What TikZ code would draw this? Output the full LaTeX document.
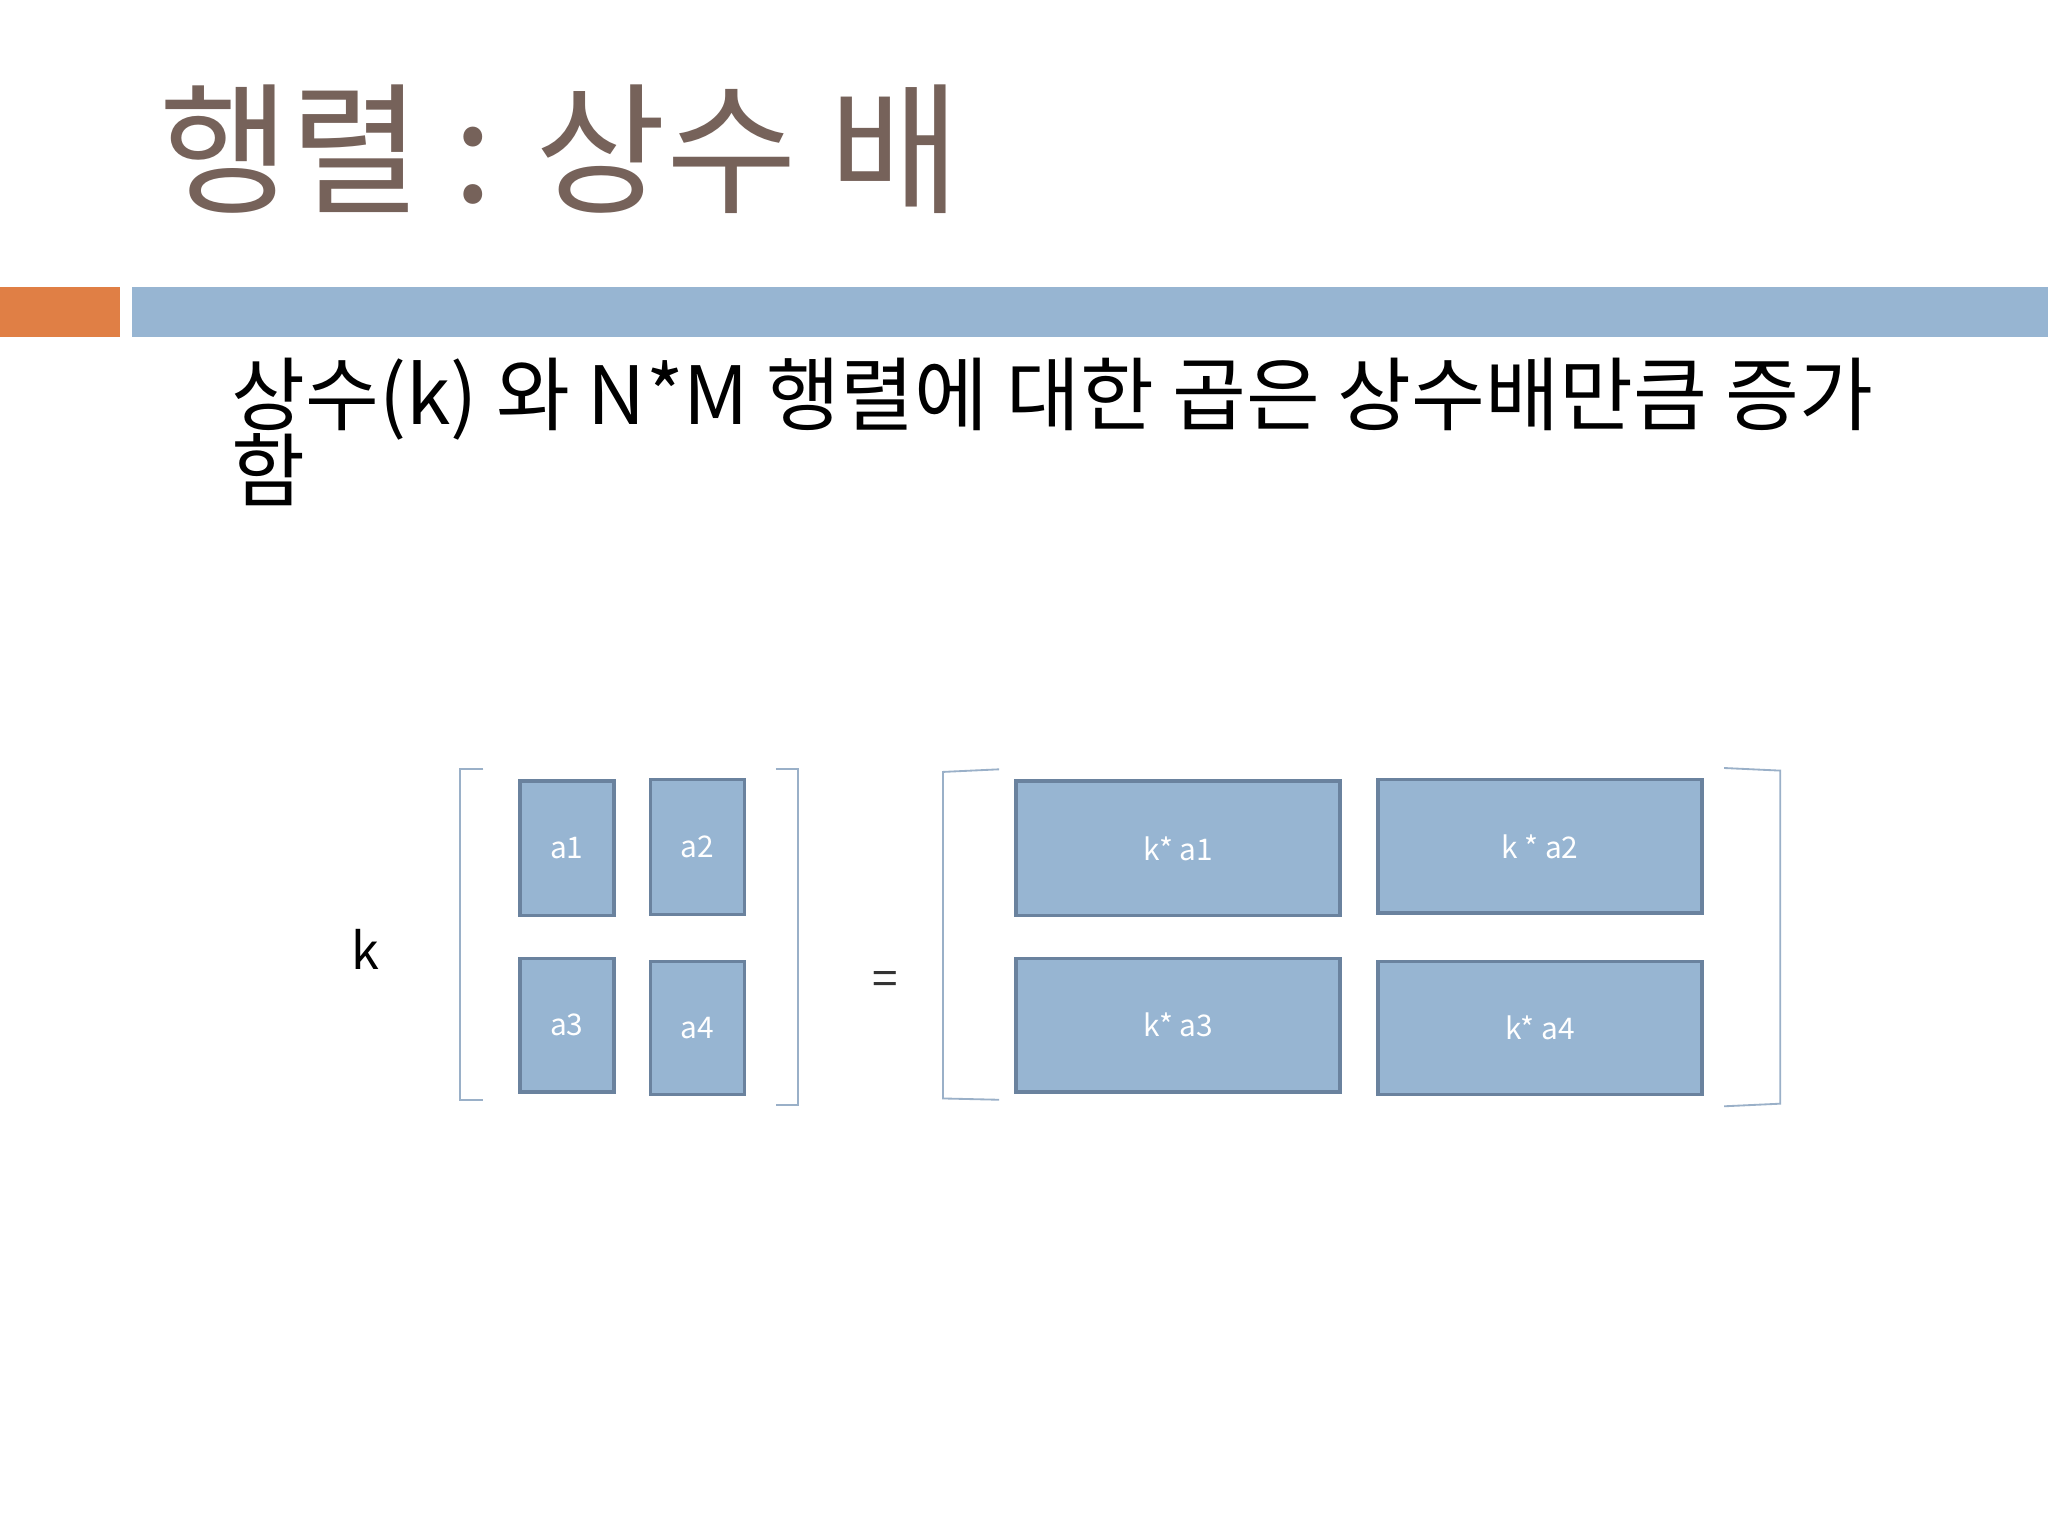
\documentclass[tikz,border=0pt]{standalone}
\usepackage{fontspec}
\setmainfont{Noto Sans CJK KR}
\begin{document}
\begin{tikzpicture}[x=0.02cm,y=-0.02cm,
  cell/.style={draw=boxedge,fill=boxfill,line width=1.5pt},
  lbl/.style={text=white,font=\fontsize{13}{15}\selectfont},
  brk/.style={draw=brkcol,line width=0.8pt}]
\definecolor{boxfill}{HTML}{97B5D2}
\definecolor{boxedge}{HTML}{6A829E}
\definecolor{brkcol}{HTML}{9AB0C8}
\definecolor{titlec}{HTML}{76625A}
\useasboundingbox (0,0) rectangle (1568,1176);
\fill[white] (0,0) rectangle (1568,1176);
\node[anchor=base west,text=titlec,inner sep=0,font=\fontsize{62}{70}\selectfont] (title) at (122,155) {행렬 : 상수 배};
\fill[fill={rgb,255:red,224;green,127;blue,69}] (0,220) rectangle (92,258);
\fill[boxfill] (101,220) rectangle (1568,258);
\node[anchor=base west,inner sep=0,font=\fontsize{35}{40}\selectfont] (l1) at (177,325) {상수(k) 와 N*M 행렬에 대한 곱은 상수배만큼 증가};
\node[anchor=base west,inner sep=0,font=\fontsize{35}{40}\selectfont] (l2) at (177,383) {함};
\draw[cell] (398,598) rectangle (470,701) node[midway,lbl] (a1) {a1};
\draw[cell] (498,597) rectangle (570,700) node[midway,lbl] (a2) {a2};
\draw[cell] (398,734) rectangle (470,836) node[midway,lbl] (a3) {a3};
\draw[cell] (498,736) rectangle (570,838) node[midway,lbl] (a4) {a4};
\draw[cell] (778,598) rectangle (1026,701) node[midway,lbl] (b1) {k* a1};
\draw[cell] (1055,597) rectangle (1303,699) node[midway,lbl] (b2) {k * a2};
\draw[cell] (778,734) rectangle (1026,836) node[midway,lbl] (b3) {k* a3};
\draw[cell] (1055,736) rectangle (1303,838) node[midway,lbl] (b4) {k* a4};
\draw[brk] (370,589) -- (352,589) -- (352,842) -- (370,842);
\draw[brk] (594,589) -- (611,589) -- (611,846) -- (594,846);
\draw[brk] (765,589) -- (722,591) -- (722,841) -- (765,842);
\draw[brk] (1320,588) -- (1363,590) -- (1363,845) -- (1320,847);
\node[font=\fontsize{22}{26}\selectfont] (k) at (280,727) {k};
\node[font=\fontsize{20}{24}\selectfont,text=black!80] (eq) at (678,753) {=};
\end{tikzpicture}
\end{document}
